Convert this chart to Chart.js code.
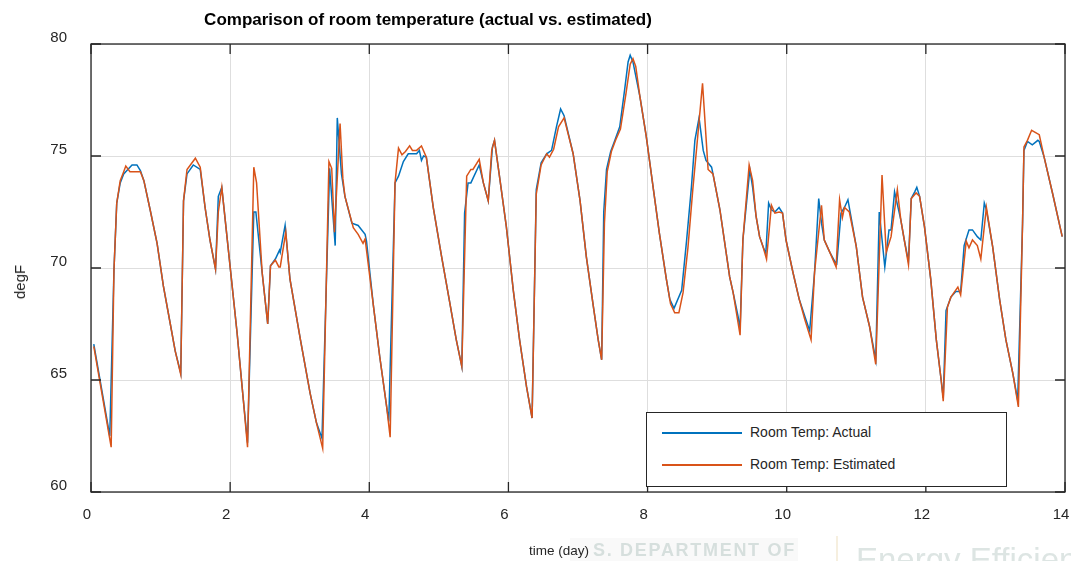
<!DOCTYPE html>
<html>
<head>
<meta charset="utf-8">
<script src="https://cdn.jsdelivr.net/npm/chart.js@4.4.1/dist/chart.umd.min.js"></script>
<style>
    html, body { margin: 0; padding: 0; background: #fff; }
    #wrap { position: relative; width: 1071px; height: 561px; overflow: hidden; font-family: "Liberation Sans", Arial, sans-serif; }
    #chart { position: absolute; left: 0; top: 0; }
    .txt { position: absolute; white-space: nowrap; color: #262626; }
    #title { left: 428px; top: 10px; transform: translateX(-50%); font-size: 17px; font-weight: bold; line-height: 20px; color: #000; }
    #xlabel { left: 529px; top: 542px; font-size: 13.5px; line-height: 18px; }
    #ylabel { left: 20px; top: 282px; font-size: 15px; line-height: 18px; transform: translate(-50%, -50%) rotate(-90deg); }
    #legend { position: absolute; left: 646px; top: 412px; width: 361px; height: 75px; border: 1px solid #262626; background: #fff; box-sizing: border-box; }
    .legItem { position: absolute; left: 0; height: 20px; font-size: 14px; line-height: 20px; color: #262626; }
    .legItem span.ln { position: absolute; left: 15px; top: 10px; width: 80px; height: 2px; }
    .legItem span.lb { position: absolute; left: 103px; top: 0; white-space: nowrap; }
    #wm1 { left: 570px; top: 538px; width: 228px; height: 23px; background: #f9f9f9; }
    #wm1 span { position: absolute; left: 23px; top: 1px; font-size: 18px; font-weight: bold; letter-spacing: 1.7px; color: #d6dfdd; line-height: 22px; }
    #wm2 { left: 836px; top: 536px; width: 2px; height: 25px; background: #f6efdf; }
    #wm3 { left: 856px; top: 540px; font-size: 33px; line-height: 40px; color: #dde5e3; }
</style>
</head>
<body>
<div id="wrap">
    <canvas id="chart" width="1071" height="561"></canvas>
    <div id="wm1" class="txt"><span>S. DEPARTMENT OF</span></div>
    <div id="wm2" class="txt"></div>
    <div id="wm3" class="txt">Energy Efficien</div>
    <div id="title" class="txt">Comparison of room temperature (actual vs. estimated)</div>
    <div id="xlabel" class="txt">time (day)</div>
    <div id="ylabel" class="txt">degF</div>
    <div id="legend"></div>
</div>
<script>
// values (time in days, temperature in degF)
var actualDays = [0.04, 0.27, 0.33, 0.37, 0.42, 0.47, 0.59, 0.66, 0.71, 0.76, 0.85, 0.95, 1.04, 1.14, 1.21, 1.29,
    1.33, 1.38, 1.47, 1.57, 1.64, 1.71, 1.79, 1.83, 1.88, 2.00, 2.10, 2.19, 2.25, 2.34, 2.37, 2.46, 2.54,
    2.58, 2.65, 2.71, 2.72, 2.79, 2.86, 3.01, 3.15, 3.24, 3.32, 3.43, 3.51, 3.54, 3.60, 3.65, 3.75, 3.84,
    3.94, 3.96, 4.06, 4.15, 4.25, 4.28, 4.37, 4.42, 4.49, 4.56, 4.68, 4.72, 4.75, 4.78, 4.82, 4.92, 5.04,
    5.16, 5.25, 5.33, 5.37, 5.42, 5.46, 5.58, 5.64, 5.71, 5.77, 5.80, 5.88, 5.97, 6.07, 6.16, 6.26, 6.34,
    6.40, 6.47, 6.55, 6.62, 6.69, 6.75, 6.80, 6.93, 7.03, 7.12, 7.22, 7.29, 7.34, 7.37, 7.41, 7.47, 7.53,
    7.60, 7.67, 7.72, 7.75, 7.79, 7.89, 7.98, 8.08, 8.17, 8.27, 8.32, 8.38, 8.49, 8.56, 8.63, 8.68, 8.74,
    8.80, 8.84, 8.92, 8.94, 9.04, 9.18, 9.23, 9.30, 9.33, 9.37, 9.47, 9.51, 9.56, 9.61, 9.66, 9.70, 9.74,
    9.78, 9.83, 9.89, 9.94, 9.99, 10.09, 10.18, 10.26, 10.33, 10.40, 10.46, 10.50, 10.54, 10.62, 10.69,
    10.72, 10.78, 10.83, 10.88, 11.00, 11.09, 11.19, 11.28, 11.33, 11.41, 11.47, 11.50, 11.55, 11.64,
    11.69, 11.75, 11.79, 11.84, 11.87, 11.91, 11.98, 12.07, 12.15, 12.22, 12.25, 12.29, 12.36, 12.43,
    12.50, 12.55, 12.62, 12.67, 12.74, 12.79, 12.84, 12.87, 12.96, 13.06, 13.15, 13.25, 13.32, 13.39,
    13.41, 13.46, 13.53, 13.61, 13.63, 13.70, 13.82, 13.96];
var actualTemp = [66.6, 62.5, 69.9, 72.9, 73.8, 74.2, 74.6, 74.6, 74.35, 73.9, 72.6, 71.1, 69.2, 67.5, 66.3, 65.3,
    73.0, 74.2, 74.6, 74.4, 72.7, 71.25, 69.95, 73.2, 73.6, 70.05, 67.1, 64.1, 62.2, 72.5, 72.5, 69.8, 67.5,
    70.1, 70.4, 70.8, 70.7, 71.9, 69.5, 66.8, 64.4, 63.1, 62.4, 74.45, 71.0, 76.7, 74.2, 73.2, 72.0, 71.9,
    71.5, 71.2, 68.3, 66.05, 63.8, 63.15, 73.8, 74.1, 74.75, 75.1, 75.1, 75.25, 74.8, 75.0, 74.95, 72.7, 70.5,
    68.4, 66.8, 65.6, 72.45, 73.8, 73.8, 74.6, 73.8, 73.0, 75.4, 75.7, 73.9, 71.85, 69.0, 66.8, 64.7, 63.3,
    73.5, 74.7, 75.1, 75.25, 76.3, 77.1, 76.8, 75.1, 73.0, 70.5, 68.3, 66.8, 65.9, 72.5, 74.4, 75.2, 75.7,
    76.3, 77.95, 79.2, 79.5, 79.2, 77.65, 75.9, 73.6, 71.55, 69.5, 68.6, 68.2, 69.0, 71.2, 73.6, 75.7, 76.7,
    75.25, 74.8, 74.5, 74.2, 72.6, 69.6, 68.9, 67.85, 67.3, 71.25, 74.4, 73.6, 72.3, 71.4, 70.95, 70.65, 72.9,
    72.6, 72.5, 72.7, 72.45, 71.25, 69.8, 68.6, 67.85, 67.2, 69.8, 73.1, 72.0, 71.25, 70.7, 70.3,
    70.2, 72.45, 72.7, 73.05, 70.95, 68.7, 67.4, 65.9, 72.5, 70.05, 71.7, 71.7, 73.4, 72.15,
    71.25, 70.3, 73.1, 73.4, 73.6, 73.2, 71.85, 69.5, 66.8, 65.0, 64.2, 68.1, 68.7, 68.95,
    68.95, 71.0, 71.7, 71.7, 71.4, 71.25, 72.9, 72.6, 70.95, 68.6, 66.8, 65.3, 64.1, 72.0,
    75.25, 75.65, 75.5, 75.7, 75.65, 74.95, 73.35, 71.4];

var estDays = [0.04, 0.29, 0.33, 0.37, 0.42, 0.47, 0.50, 0.56, 0.71, 0.76, 0.85, 0.95, 1.04, 1.14, 1.21, 1.29,
    1.33, 1.38, 1.50, 1.57, 1.64, 1.71, 1.79, 1.83, 1.88, 2.00, 2.10, 2.19, 2.25, 2.34, 2.38, 2.46, 2.54,
    2.58, 2.65, 2.70, 2.72, 2.80, 2.86, 3.01, 3.15, 3.24, 3.33, 3.42, 3.46, 3.50, 3.58, 3.62, 3.65, 3.77,
    3.84, 3.91, 3.94, 4.06, 4.15, 4.25, 4.30, 4.37, 4.42, 4.47, 4.52, 4.58, 4.62, 4.68, 4.75, 4.82, 4.92,
    5.04, 5.16, 5.25, 5.33, 5.40, 5.46, 5.49, 5.58, 5.64, 5.71, 5.76, 5.80, 5.88, 5.97, 6.07, 6.16, 6.26,
    6.34, 6.40, 6.47, 6.55, 6.59, 6.65, 6.72, 6.80, 6.93, 7.03, 7.12, 7.22, 7.29, 7.34, 7.38, 7.42, 7.48,
    7.54, 7.61, 7.69, 7.75, 7.79, 7.83, 7.89, 7.98, 8.08, 8.17, 8.27, 8.33, 8.39, 8.45, 8.51, 8.58, 8.65,
    8.71, 8.79, 8.87, 8.94, 9.04, 9.18, 9.23, 9.33, 9.37, 9.46, 9.51, 9.56, 9.61, 9.66, 9.71, 9.78, 9.83,
    9.89, 9.94, 9.99, 10.09, 10.18, 10.26, 10.35, 10.40, 10.50, 10.54, 10.62, 10.71, 10.76, 10.80, 10.83,
    10.90, 11.00, 11.09, 11.19, 11.28, 11.37, 11.43, 11.50, 11.59, 11.64, 11.69, 11.75, 11.79, 11.86,
    11.91, 11.98, 12.07, 12.15, 12.22, 12.25, 12.31, 12.36, 12.46, 12.50, 12.58, 12.62, 12.67, 12.74,
    12.79, 12.87, 12.96, 13.06, 13.15, 13.25, 13.33, 13.39, 13.41, 13.46, 13.52, 13.63, 13.70, 13.82, 13.96];
var estTemp = [66.5, 62.0, 69.9, 72.9, 73.9, 74.3, 74.55, 74.3, 74.3, 73.9, 72.6, 71.1, 69.2, 67.5, 66.3, 65.25,
    73.0, 74.4, 74.9, 74.5, 72.7, 71.25, 69.95, 72.5, 73.6, 70.05, 67.1, 64.1, 62.0, 74.5, 73.8, 69.8, 67.5,
    70.1, 70.35, 70.05, 70.05, 71.6, 69.5, 66.8, 64.4, 63.1, 61.95, 74.75, 74.45, 71.6, 76.45, 74.0, 73.2, 71.8,
    71.5, 71.1, 71.3, 68.3, 66.05, 63.8, 62.45, 73.8, 75.35, 75.05, 75.2, 75.45, 75.25, 75.25, 75.45, 74.95, 72.7,
    70.5, 68.4, 66.8, 65.6, 74.1, 74.4, 74.4, 74.85, 73.8, 73.0, 75.25, 75.7, 73.9, 71.85, 69.0, 66.8, 64.7,
    63.3, 73.3, 74.6, 75.1, 74.95, 75.3, 76.3, 76.7, 75.1, 73.0, 70.5, 68.3, 66.8, 65.9, 72.0, 74.3, 75.2,
    75.7, 76.2, 77.8, 79.1, 79.35, 79.0, 77.65, 75.9, 73.6, 71.55, 69.5, 68.4, 68.0, 68.0, 68.9, 70.9, 73.5,
    75.5, 78.25, 74.4, 74.2, 72.6, 69.6, 68.9, 67.0, 71.25, 74.6, 73.9, 72.3, 71.4, 70.95, 70.4, 72.8, 72.45,
    72.5, 72.45, 71.25, 69.8, 68.6, 67.7, 66.8, 69.8, 72.8, 71.25, 70.7, 70.05, 73.05, 72.25, 72.7,
    72.5, 70.95, 68.7, 67.4, 65.7, 74.15, 70.7, 71.4, 73.5, 72.15, 71.25, 70.15, 73.1, 73.35,
    73.2, 71.85, 69.5, 66.8, 65.0, 64.05, 68.25, 68.7, 69.15, 68.8, 71.2, 70.9, 71.25, 71.0,
    70.4, 72.7, 70.95, 68.6, 66.8, 65.3, 63.8, 72.0, 75.4, 75.7, 76.15, 75.95, 74.95, 73.35, 71.4];

var xTicks = [0, 2, 4, 6, 8, 10, 12, 14];
var yTicks = [60, 65, 70, 75, 80];
var seriesNames = ['Room Temp: Actual', 'Room Temp: Estimated'];
var seriesColors = ['#0072BD', '#D95319'];

(function () {
    var toPoints = function (xs, ys) {
        return xs.map(function (x, i) {
            return { x: x, y: ys[i] };
        });
    };

    // matlab-like box with ticks pointing inwards
    var boxPlugin = {
        id: 'matlabBox',
        afterDraw: function (chart) {
            var ctx = chart.ctx;
            var a = chart.chartArea;
            var xs = chart.scales.x, ys = chart.scales.y;
            var len = 10;
            ctx.save();
            ctx.strokeStyle = '#262626';
            ctx.lineWidth = 1.3;
            ctx.beginPath();
            xTicks.forEach(function (v) {
                var px = xs.getPixelForValue(v);
                ctx.moveTo(px, a.bottom); ctx.lineTo(px, a.bottom - len);
                ctx.moveTo(px, a.top); ctx.lineTo(px, a.top + len);
            });
            yTicks.forEach(function (v) {
                var py = ys.getPixelForValue(v);
                ctx.moveTo(a.left, py); ctx.lineTo(a.left + len, py);
                ctx.moveTo(a.right, py); ctx.lineTo(a.right - len, py);
            });
            ctx.stroke();
            ctx.strokeRect(a.left, a.top, a.right - a.left, a.bottom - a.top);
            ctx.restore();
        }
    };

    var tickFont = { family: '"Liberation Sans", Arial, sans-serif', size: 15 };

    var ctx = document.getElementById('chart').getContext('2d');

    var chart = new Chart(ctx, {
        type: 'line',
        data: {
            datasets: [{
                label: seriesNames[0],
                data: toPoints(actualDays, actualTemp),
                borderColor: seriesColors[0],
                borderWidth: 1.5,
                order: 2
            }, {
                label: seriesNames[1],
                data: toPoints(estDays, estTemp),
                borderColor: seriesColors[1],
                borderWidth: 1.5,
                order: 1
            }]
        },
        options: {
            responsive: false,
            animation: false,
            devicePixelRatio: 1,
            // x axis is 18 + 2*14 = 46 px tall, so 561 - 23 - 46 = 492 for the plot bottom
            layout: { padding: { left: 0, top: 44, right: 6, bottom: 23 } },
            elements: { point: { radius: 0 }, line: { tension: 0 } },
            plugins: { legend: { display: false }, tooltip: { enabled: false } },
            scales: {
                x: {
                    type: 'linear',
                    min: 0,
                    max: 14,
                    afterFit: function (scale) {
                        scale.height = 46;
                        scale.paddingLeft = 0;
                        scale.paddingRight = 0;
                    },
                    afterBuildTicks: function (scale) {
                        scale.ticks = xTicks.map(function (v) { return { value: v }; });
                    },
                    border: { display: false },
                    grid: { color: '#dedede', lineWidth: 1, drawTicks: false },
                    ticks: {
                        padding: 14,
                        labelOffset: -4,
                        maxRotation: 0,
                        autoSkip: false,
                        color: '#262626',
                        font: tickFont
                    }
                },
                y: {
                    min: 60,
                    max: 80,
                    afterFit: function (scale) {
                        scale.width = 91;
                        scale.paddingTop = 0;
                        scale.paddingBottom = 0;
                    },
                    afterBuildTicks: function (scale) {
                        scale.ticks = yTicks.map(function (v) { return { value: v }; });
                    },
                    border: { display: false },
                    grid: { color: '#dedede', lineWidth: 1, drawTicks: false },
                    ticks: {
                        padding: 24,
                        labelOffset: -6,
                        color: '#262626',
                        font: tickFont
                    }
                }
            }
        },
        plugins: [boxPlugin]
    });

    // legend box inside the axes, lower right
    var legend = document.getElementById('legend');
    chart.data.datasets.forEach(function (ds, i) {
        var item = document.createElement('div');
        item.className = 'legItem';
        item.style.top = (9 + i * 32) + 'px';
        item.style.width = '100%';
        item.innerHTML = '<span class="ln" style="background:' + ds.borderColor + '"></span>' +
            '<span class="lb">' + ds.label + '</span>';
        legend.appendChild(item);
    });
}());
</script>
</body>
</html>
